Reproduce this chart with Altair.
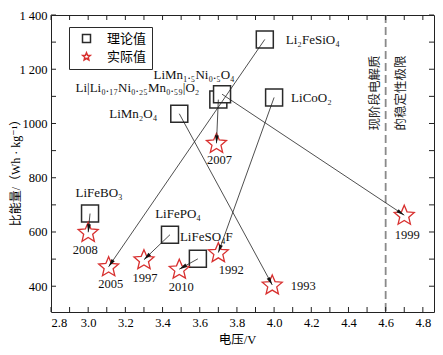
import math
import altair as alt
import pandas as pd

# ---------------- data ----------------
materials = ["Li₂FeSiO₄", "Li|Li₀.₁₇Ni₀.₂₅Mn₀.₅₉|O₂", "LiMn₁.₅Ni₀.₅O₄", "LiCoO₂",
             "LiMn₂O₄", "LiFeBO₃", "LiFePO₄", "LiFeSO₄F"]
theory_voltage = [3.95, 3.70, 3.72, 4.00, 3.49, 3.01, 3.44, 3.59]
theory_energy = [1310, 1088, 1108, 1096, 1036, 668, 590, 501]

years = ["2005", "2007", "1999", "1992", "1993", "2008", "1997", "2010"]
actual_voltage = [3.11, 3.69, 4.70, 3.70, 3.99, 3.00, 3.30, 3.49]
actual_energy = [472, 927, 662, 524, 405, 599, 498, 463]

legend_names = ["理论值", "实际值"]
limit_voltage = [4.6]
limit_text = ["现阶段电解质", "的稳定性极限"]
limit_text_voltage = [4.545, 4.68]
limit_text_energy = [1112, 1112]

x_tick_values = [2.8, 2.9, 3.0, 3.1, 3.2, 3.3, 3.4, 3.5, 3.6, 3.7, 3.8,
                 3.9, 4.0, 4.1, 4.2, 4.3, 4.4, 4.5, 4.6, 4.7, 4.8]
x_label_values = [2.8, 3.0, 3.2, 3.4, 3.6, 3.8, 4.0, 4.2, 4.4, 4.6, 4.8]
y_tick_values = [400, 500, 600, 700, 800, 900, 1000, 1100, 1200, 1300, 1400]
y_label_values = [400, 600, 800, 1000, 1200, 1400]
y_label_texts = ["400", "600", "800", "1000", "1 200", "1 400"]

# ---------------- styles / layout ----------------
W, H = 383, 297
XDOM = [2.8, 4.86]
YDOM = [305, 1400]
SERIF = "Liberation Serif, Times New Roman, DejaVu Serif, serif"
CJK = "Noto Sans CJK SC"
MIXED = "Liberation Serif, DejaVu Serif, Noto Sans CJK SC, serif"
RED = "#d8302f"
DARK = "#2a2a2a"

# label offsets (pixels) and alignment, per material / year (styles)
mat_style = [("left", 21, 1), ("right", -19, -12), ("center", -28, -19), ("left", 17, 1),
             ("right", -22, 0), ("center", 9, -21), ("center", 8, -21), ("left", -18, -22)]
year_style = [("center", 2, 17), ("center", 3, 17), ("center", 3, 20), ("center", 13, 17),
              ("center", 31, 1), ("center", -3, 18), ("center", 1, 18), ("center", 2, 18)]


def star_path(inner=0.45):
    pts = []
    for k in range(10):
        r = 1.0 if k % 2 == 0 else inner
        a = math.radians(-90 + 36 * k)
        pts.append((r * math.cos(a), r * math.sin(a) + 0.05))
    return "M" + "L".join(f"{x:.3f},{y:.3f}" for x, y in pts) + "Z"


STAR = star_path()
ARROW = "M0,0L0.24,1L-0.24,1Z"

xscale = alt.Scale(domain=XDOM, nice=False, zero=False)
yscale = alt.Scale(domain=YDOM, nice=False, zero=False)

label_expr = " : ".join(
    f"datum.value == {v} ? '{t}'" for v, t in zip(y_label_values, y_label_texts)
) + " : ''"

x_axis = alt.Axis(values=x_label_values, format=".1f", ticks=False, domain=False, grid=False,
                  labelFont=SERIF, labelFontSize=12.5, labelColor="black", labelPadding=4,
                  title="电压/V", titleFont=MIXED, titleFontSize=12.5, titleFontWeight="normal",
                  titleColor="black", titlePadding=5, titleX=186)
y_axis = alt.Axis(values=y_label_values, labelExpr=label_expr, ticks=False, domain=False, grid=False,
                  labelFont=SERIF, labelFontSize=12.5, labelColor="black", labelPadding=4,
                  title="比能量/（Wh · kg⁻¹）", titleFont=MIXED, titleFontSize=12,
                  titleFontWeight="normal", titleColor="black", titleX=-29, titleY=H / 2 + 6)


def xenc(field):
    return alt.X(f"{field}:Q", scale=xscale, axis=x_axis)


def yenc(field):
    return alt.Y(f"{field}:Q", scale=yscale, axis=y_axis)


df_theory = pd.DataFrame({"name": materials, "v": theory_voltage, "e": theory_energy,
                          "type": legend_names[0]})
df_actual = pd.DataFrame({"name": years, "v": actual_voltage, "e": actual_energy,
                          "type": legend_names[1]})

kx = W / (XDOM[1] - XDOM[0])
ky = H / (YDOM[1] - YDOM[0])
angles = []
for x1, y1, x2, y2 in zip(theory_voltage, theory_energy, actual_voltage, actual_energy):
    dxp = (x2 - x1) * kx
    dyp = -(y2 - y1) * ky
    angles.append(math.degrees(math.atan2(dxp, -dyp)) % 360)
df_arrow = pd.DataFrame({"x1": theory_voltage, "y1": theory_energy,
                         "x2": actual_voltage, "y2": actual_energy, "ang": angles})

shape_scale = alt.Scale(domain=legend_names, range=["square", STAR])
stroke_scale = alt.Scale(domain=legend_names, range=[DARK, RED])
legend = alt.Legend(title=None, orient="none", legendX=18, legendY=12, strokeColor=DARK,
                    fillColor="white", padding=5, symbolOffset=6, labelOffset=14, rowPadding=3,
                    labelFont=CJK, labelFontSize=13, labelColor="black", symbolSize=64,
                    symbolStrokeWidth=1.5, symbolFillColor="white", cornerRadius=0)

squares = alt.Chart(df_theory).mark_point(size=289, fill="white", strokeWidth=1.5, opacity=1).encode(
    x=xenc("v"), y=yenc("e"),
    shape=alt.Shape("type:N", scale=shape_scale, legend=legend),
    stroke=alt.Stroke("type:N", scale=stroke_scale, legend=legend),
)
stars = alt.Chart(df_actual).mark_point(size=441, fill="white", strokeWidth=1.3, opacity=1).encode(
    x=xenc("v"), y=yenc("e"),
    shape=alt.Shape("type:N", scale=shape_scale, legend=legend),
    stroke=alt.Stroke("type:N", scale=stroke_scale, legend=legend),
)
lines = alt.Chart(df_arrow).mark_rule(color="#222", strokeWidth=0.8).encode(
    x=xenc("x1"), y=yenc("y1"), x2="x2:Q", y2="y2:Q")
heads = alt.Chart(df_arrow).mark_point(shape=ARROW, size=256, filled=True, color="#111",
                                       opacity=1, strokeWidth=0).encode(
    x=xenc("x2"), y=yenc("y2"), angle=alt.Angle("ang:Q", scale=None))

limit = alt.Chart(pd.DataFrame({"v": limit_voltage})).mark_rule(
    color="#8a8a8a", strokeWidth=1.8, strokeDash=[8, 4]).encode(x=xenc("v"))
limit_lbl = alt.Chart(pd.DataFrame({"v": limit_text_voltage, "e": limit_text_energy,
                                    "t": limit_text})).mark_text(
    angle=270, font=CJK, fontSize=12.5, color="#222", align="center", baseline="middle").encode(
    x=xenc("v"), y=yenc("e"), text="t:N")

text_layers = []
for i in range(len(materials)):
    al, dx, dy = mat_style[i]
    text_layers.append(alt.Chart(df_theory.iloc[[i]]).mark_text(
        align=al, dx=dx, dy=dy, baseline="middle", font=SERIF, fontSize=13, color="#111").encode(
        x=xenc("v"), y=yenc("e"), text="name:N"))
for i in range(len(years)):
    al, dx, dy = year_style[i]
    text_layers.append(alt.Chart(df_actual.iloc[[i]]).mark_text(
        align=al, dx=dx, dy=dy, baseline="middle", font=SERIF, fontSize=12.5, color="#111").encode(
        x=xenc("v"), y=yenc("e"), text="name:N"))

df_xt = pd.DataFrame({"t": x_tick_values})
df_yt = pd.DataFrame({"t": y_tick_values})
tick_style = dict(color="#222", strokeWidth=1)
t_bottom = alt.Chart(df_xt).mark_rule(**tick_style).encode(x=xenc("t"), y=alt.value(H), y2=alt.value(H - 5))
t_top = alt.Chart(df_xt).mark_rule(**tick_style).encode(x=xenc("t"), y=alt.value(0), y2=alt.value(5))
t_left = alt.Chart(df_yt).mark_rule(**tick_style).encode(y=yenc("t"), x=alt.value(0), x2=alt.value(5))
t_right = alt.Chart(df_yt).mark_rule(**tick_style).encode(y=yenc("t"), x=alt.value(W), x2=alt.value(W - 5))

chart = alt.layer(
    limit, squares, stars, lines, heads, limit_lbl, *text_layers,
    t_bottom, t_top, t_left, t_right,
).properties(
    width=W, height=H,
    autosize=alt.AutoSizeParams(type="none"),
    padding={"left": 43, "top": 7, "right": 1, "bottom": 35},
    background="white",
).configure_view(stroke="#222", strokeWidth=1)

chart.save("out.html", embed_options={"renderer": "svg", "actions": False})
